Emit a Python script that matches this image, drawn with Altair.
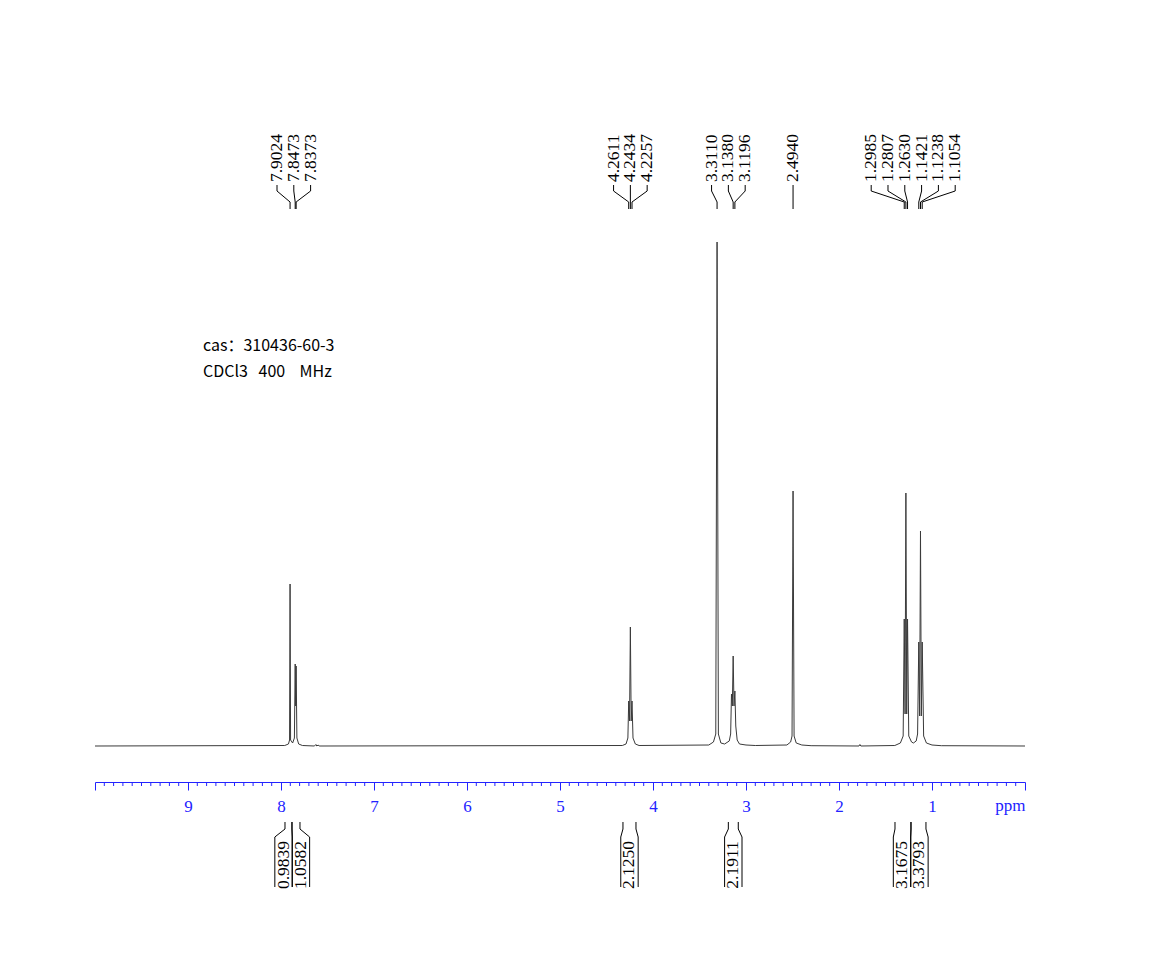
import altair as alt
import pandas as pd
import numpy as np

# ---------------- data ----------------
# spectrum vertices (ppm, intensity in arbitrary units)
spec_ppm = [10.0, 7.96, 7.92, 7.908, 7.9024, 7.897, 7.875, 7.856, 7.8473, 7.8423, 7.8373,
            7.829, 7.81, 7.77, 7.64, 7.625, 7.615, 7.60, 7.59,
            4.33, 4.29, 4.27, 4.2611, 4.2523, 4.2434, 4.2346, 4.2257, 4.215, 4.19, 4.15,
            3.40, 3.35, 3.325, 3.3110, 3.297, 3.27, 3.23, 3.18, 3.165, 3.156, 3.147, 3.138,
            3.129, 3.1196, 3.11, 3.095, 3.07, 3.00, 2.90,
            2.56, 2.52, 2.505, 2.4940, 2.483, 2.46, 2.40, 2.30,
            1.785, 1.775, 1.765,
            1.40, 1.34, 1.31, 1.2985, 1.2896, 1.2807, 1.2718, 1.2630, 1.25, 1.22, 1.20,
            1.17, 1.155, 1.1421, 1.133, 1.1238, 1.1146, 1.1054, 1.09, 1.06, 1.00, 0.90, 0.0]
spec_int = [0, 0.5, 2, 6, 162, 6, 3, 8, 82, 40, 80,
            8, 2, 0.5, 0, 1.5, 0, 1, 0,
            0.5, 2, 8, 45, 25, 119, 25, 45, 8, 2, 0.5,
            1, 4, 12, 504, 12, 3, 2, 5, 12, 52, 40, 90,
            40, 55, 20, 6, 2, 1, 0.5,
            1, 4, 10, 255, 10, 3, 1, 0.3,
            0, 1.5, 0,
            0.5, 3, 10, 127, 32, 253, 32, 127, 10, 4, 3,
            5, 12, 104, 30, 215, 30, 104, 10, 3, 1, 0.3, 0]

# peak pick labels, grouped as in the figure
peak_groups = [[7.9024, 7.8473, 7.8373],
               [4.2611, 4.2434, 4.2257],
               [3.3110, 3.1380, 3.1196],
               [2.4940],
               [1.2985, 1.2807, 1.2630, 1.1421, 1.1238, 1.1054]]

# integrals
integral_values = [0.9839, 1.0582, 2.1250, 2.1911, 3.1675, 3.3793]
integral_from = [7.957, 7.882, 4.323, 3.190, 1.398, 1.226]
integral_to = [7.882, 7.796, 4.183, 3.083, 1.226, 1.065]
integral_groups = [[0, 1], [2], [3], [4, 5]]

info_lines = ["cas：310436-60-3", "CDCl3\u00a0\u00a0\u00a0400\u00a0\u00a0\u00a0\u00a0MHz"]

# ---------------- layout helpers ----------------
BLUE = "#2323ff"
PLOT_LEFT = 95
PLOT_TOP = 120          # page y of plot top
BASE_Y = 747            # page y of zero intensity
AXIS_Y = 783            # page y of axis line
W = 930
H = AXIS_Y - PLOT_TOP
PX_PER_PPM = W / 10.0
SERIF = "Liberation Serif"


def yv(page_y):
    return BASE_Y - page_y


def ppm_at(page_x):
    return 10 - (page_x - PLOT_LEFT) / PX_PER_PPM


x_scale = alt.Scale(domain=[10, 0], nice=False, zero=False)
y_scale = alt.Scale(domain=[yv(AXIS_Y), yv(PLOT_TOP)], nice=False, zero=False)

spec_df = pd.DataFrame({"ppm": spec_ppm, "inten": spec_int, "i": range(len(spec_ppm))})

# peak labels and connectors
lab_rows, conn_rows = [], []
spacing = 16.8 / PX_PER_PPM
cid = 0
for grp in peak_groups:
    c = float(np.mean(grp))
    n = len(grp)
    for k, p in enumerate(grp):
        lp = c + ((n - 1) / 2 - k) * spacing
        lab_rows.append({"ppm": lp, "text": f"{p:.4f}", "y": yv(183)})
        for o, (xx, yy) in enumerate([(lp, 186), (lp, 192), (p, 203), (p, 210)]):
            conn_rows.append({"id": cid, "o": o, "ppm": xx, "y": yv(yy)})
        cid += 1
lab_df = pd.DataFrame(lab_rows)
conn_df = pd.DataFrame(conn_rows)

# integrals
int_text_rows, int_line_rows = [], []
hw = 8.7 / PX_PER_PPM
ispace = 17.4 / PX_PER_PPM
lid = 0
for grp in integral_groups:
    mids = [(integral_from[i] + integral_to[i]) / 2 for i in grp]
    c = float(np.mean(mids))
    n = len(grp)
    for k, i in enumerate(grp):
        tc = c + ((n - 1) / 2 - k) * ispace
        int_text_rows.append({"ppm": tc, "text": f"{integral_values[i]:.4f}", "y": yv(866)})
        for edge, box in [(integral_from[i], tc + hw), (integral_to[i], tc - hw)]:
            for o, (xx, yy) in enumerate([(edge, 823), (edge, 830), (box, 838), (box, 888)]):
                int_line_rows.append({"id": lid, "o": o, "ppm": xx, "y": yv(yy)})
            lid += 1
int_text_df = pd.DataFrame(int_text_rows)
int_line_df = pd.DataFrame(int_line_rows)

minor = [round(v, 1) for v in np.arange(0, 10.001, 0.1) if abs(v - round(v)) > 1e-6]
minor_df = pd.DataFrame({"ppm": minor, "y1": yv(AXIS_Y), "y2": yv(AXIS_Y + 4)})
info_df = pd.DataFrame({"text": info_lines,
                        "ppm": [ppm_at(203), ppm_at(203)],
                        "y": [yv(347), yv(373)]})

# ---------------- chart ----------------
x_axis = alt.Axis(values=list(range(0, 11)),
                  labelExpr="datum.value >= 1 && datum.value <= 9 ? datum.label : ''",
                  domainColor=BLUE, domainWidth=1, tickColor=BLUE, tickWidth=1, tickSize=8,
                  labelColor=BLUE, labelFont=SERIF, labelFontSize=17, labelPadding=8,
                  grid=False, title="ppm", titleColor=BLUE, titleFont=SERIF,
                  titleFontSize=17, titleFontWeight="normal", titleX=W, titleY=23,
                  titleAlign="right", titleBaseline="middle", format="d")

X = alt.X("ppm:Q", scale=x_scale, axis=x_axis)
Y = lambda f: alt.Y(f, scale=y_scale, axis=None)

spectrum = alt.Chart(spec_df).mark_line(color="#3a3a3a", strokeWidth=1).encode(
    x=X, y=Y("inten:Q"), order="i:Q")

minor_ticks = alt.Chart(minor_df).mark_rule(color=BLUE, strokeWidth=1).encode(
    x=X, y=Y("y1:Q"), y2="y2:Q")

labels = alt.Chart(lab_df).mark_text(angle=270, align="left", baseline="middle",
                                     font=SERIF, fontSize=17.5, color="black").encode(
    x=X, y=Y("y:Q"), text="text:N")

connectors = alt.Chart(conn_df).mark_line(color="black", strokeWidth=1).encode(
    x=X, y=Y("y:Q"), detail="id:N", order="o:Q")

int_lines = alt.Chart(int_line_df).mark_line(color="black", strokeWidth=1).encode(
    x=X, y=Y("y:Q"), detail="id:N", order="o:Q")

int_texts = alt.Chart(int_text_df).mark_text(angle=270, align="center", baseline="middle",
                                             font=SERIF, fontSize=17.5, color="black").encode(
    x=X, y=Y("y:Q"), text="text:N")

info = alt.Chart(info_df).mark_text(align="left", baseline="middle",
                                    font="Noto Sans CJK SC", fontSize=16, color="black").encode(
    x=X, y=Y("y:Q"), text="text:N")

chart = alt.layer(spectrum, minor_ticks, connectors, labels, int_lines, int_texts, info).properties(
    width=W, height=H, padding={"left": PLOT_LEFT - 2, "top": PLOT_TOP - 1, "right": 5, "bottom": 5},
    background="white").configure_view(stroke=None)

chart.save("out.html", embed_options={"renderer": "svg", "actions": False})
